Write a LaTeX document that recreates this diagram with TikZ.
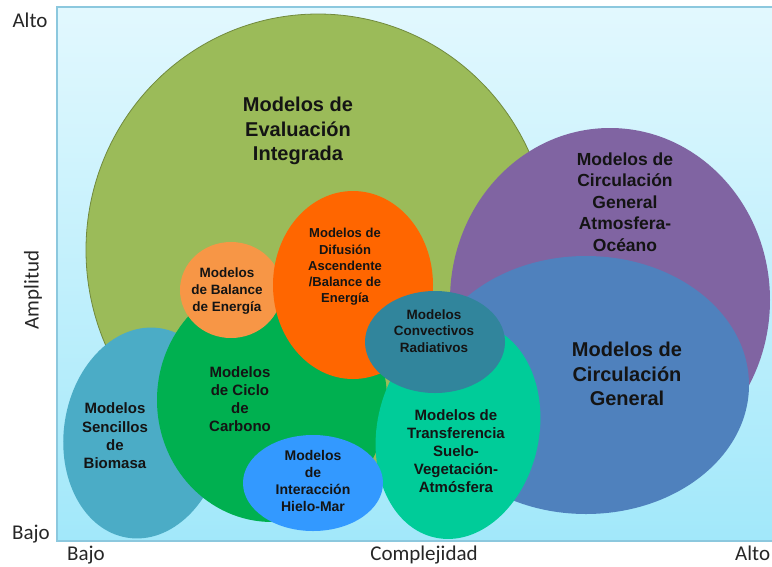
\documentclass[tikz,border=0pt]{standalone}
\usepackage{fontspec}
\setmainfont{Liberation Sans}
\newfontfamily\calib{Carlito}
\usetikzlibrary{shapes.geometric}
\definecolor{bgtop}{HTML}{E2F8FE}
\definecolor{bgbot}{HTML}{A2E8FA}
\definecolor{bgline}{HTML}{8CC8DE}
\definecolor{cEval}{HTML}{9BBB59}
\definecolor{cEvalD}{HTML}{718A3E}
\definecolor{cAO}{HTML}{8064A2}
\definecolor{cCG}{HTML}{4F81BD}
\definecolor{cBio}{HTML}{4BACC6}
\definecolor{cCic}{HTML}{00B050}
\definecolor{cBal}{HTML}{F79646}
\definecolor{cDif}{HTML}{FF6600}
\definecolor{cTra}{HTML}{00CC99}
\definecolor{cCon}{HTML}{31859C}
\definecolor{cHie}{HTML}{3399FF}
\definecolor{txt}{HTML}{141414}
\definecolor{axtxt}{HTML}{262626}
\begin{document}
\begin{tikzpicture}[x=1pt,y=-1pt,
  blob/.style={ellipse, inner sep=0pt, outer sep=0pt},
  lbl/.style={align=center, text=txt, inner sep=0pt},
  axislbl/.style={font=\calib\fontsize{21}{24}\selectfont, text=axtxt, inner sep=0pt}]
\useasboundingbox (0,0) rectangle (772,566);
\fill[white] (0,0) rectangle (772,566);
\shade[top color=bgtop,bottom color=bgbot] (57,7) rectangle (778,541);
\draw[bgline, line width=1.5pt] (778,7) -- (57,7) -- (57,541) -- (778,541);
% ellipses
\node[blob, fill=cEval, draw=cEvalD, line width=0.8pt, minimum width=464pt, minimum height=472pt] (eval) at (318,250) {};
\node[blob, fill=cAO, minimum width=320pt, minimum height=344pt] (ao) at (610,300) {};
\node[blob, fill=cCG, minimum width=326pt, minimum height=258pt] (cg) at (586,385) {};
\node[blob, fill=cBio, rotate=-9, minimum width=160pt, minimum height=212pt] (bio) at (144,433) {};
\node[blob, fill=cCic, minimum width=230pt, minimum height=244pt] (cic) at (272,400) {};
\node[blob, fill=cBal, minimum width=102pt, minimum height=96pt] (bal) at (231,290) {};
\node[blob, fill=cDif, minimum width=160pt, minimum height=188pt] (dif) at (353,285) {};
\node[blob, fill=cTra, rotate=-12, minimum width=162pt, minimum height=218pt] (tra) at (458,431) {};
\node[blob, fill=cCon, minimum width=140pt, minimum height=102pt] (con) at (435,342) {};
\node[blob, fill=cHie, minimum width=140pt, minimum height=96pt] (hie) at (313,483) {};
% labels
\node[lbl, font=\bfseries\fontsize{20}{24.5}\selectfont] (tEval) at (298,131) {Modelos de\\Evaluación\\Integrada};
\node[lbl, font=\bfseries\fontsize{17.5}{21.6}\selectfont] (tAO) at (625,202) {Modelos de\\Circulación\\General\\Atmosfera-\\Océano};
\node[lbl, font=\bfseries\fontsize{20}{24.3}\selectfont] (tCG) at (627,374) {Modelos de\\Circulación\\General};
\node[lbl, font=\bfseries\fontsize{13}{16.3}\selectfont] (tDif) at (345,267) {Modelos de\\Difusión\\Ascendente\\/Balance de\\Energía};
\node[lbl, font=\bfseries\fontsize{13.5}{16.8}\selectfont] (tBal) at (227,291) {Modelos\\de Balance\\de Energía};
\node[lbl, font=\bfseries\fontsize{13.5}{16.5}\selectfont] (tCon) at (434,331) {Modelos\\Convectivos\\Radiativos};
\node[lbl, font=\bfseries\fontsize{15}{18}\selectfont] (tCic) at (240,399) {Modelos\\de Ciclo\\de\\Carbono};
\node[lbl, font=\bfseries\fontsize{15}{18.3}\selectfont] (tBio) at (115,436) {Modelos\\Sencillos\\de\\Biomasa};
\node[lbl, font=\bfseries\fontsize{15}{18}\selectfont] (tTra) at (456,451) {Modelos de\\Transferencia\\Suelo-\\Vegetación-\\Atmósfera};
\node[lbl, font=\bfseries\fontsize{14}{17}\selectfont] (tHie) at (313,481) {Modelos\\de\\Interacción\\Hielo-Mar};
% axes
\node[axislbl, anchor=base] (yAlto) at (30,27) {Alto};
\node[axislbl, anchor=base] (yBajo) at (31,539) {Bajo};
\node[axislbl, rotate=90] (yAmp) at (33,290) {Amplitud};
\node[axislbl, anchor=base] (xBajo) at (86,560) {Bajo};
\node[axislbl, anchor=base] (xComp) at (424,560) {Complejidad};
\node[axislbl, anchor=base west] (xAlto) at (735,560) {Alto};
\end{tikzpicture}
\end{document}
